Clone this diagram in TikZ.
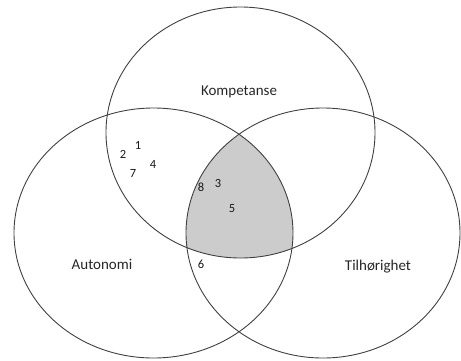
\documentclass[tikz,border=0pt]{standalone}
\usepackage{fontspec}
\setmainfont{Carlito}
\begin{document}
\begin{tikzpicture}[x=1pt,y=-1pt,
  ell/.style={draw=black!75, line width=0.9pt},
  lab/.style={font=\fontsize{15}{17}\selectfont, text=black!85, inner sep=0pt},
  num/.style={font=\fontsize{12.5}{14}\selectfont, text=black!90, inner sep=0pt}]
\useasboundingbox (0,0) rectangle (461,360);
\begin{scope}
  \clip (240.5,132.5) ellipse [x radius=134.5pt, y radius=125.5pt];
  \clip (153.5,233) ellipse [x radius=139.5pt, y radius=125pt];
  \fill[black!20] (323,233) ellipse [x radius=137pt, y radius=125pt];
\end{scope}
\draw[ell] (240.5,132.5) ellipse [x radius=134.5pt, y radius=125.5pt];
\draw[ell] (153.5,233) ellipse [x radius=139.5pt, y radius=125pt];
\draw[ell] (323,233) ellipse [x radius=137pt, y radius=125pt];
\node[lab] (komp) at (239,92) {Kompetanse};
\node[lab] (auto) at (102,264) {Autonomi};
\node[lab] (tilh) at (378,267) {Tilhørighet};
\node[num] (n1) at (138,145) {1};
\node[num] (n2) at (123,154) {2};
\node[num] (n4) at (153,164) {4};
\node[num] (n7) at (133,173) {7};
\node[num] (n8) at (201,187) {8};
\node[num] (n3) at (218,183) {3};
\node[num] (n5) at (232,209) {5};
\node[num] (n6) at (201,264) {6};
\end{tikzpicture}
\end{document}
